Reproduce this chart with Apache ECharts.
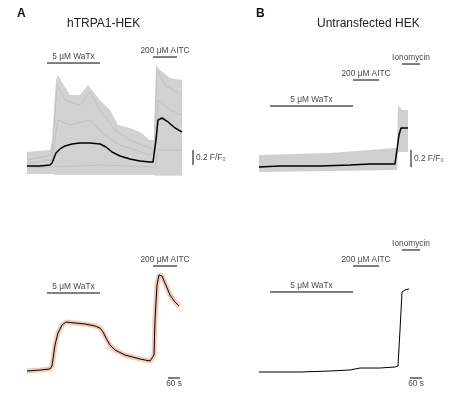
<!DOCTYPE html>
<html><head><meta charset="utf-8">
<script src="https://cdn.jsdelivr.net/npm/echarts@6/dist/echarts.min.js"></script>
<style>html,body{margin:0;padding:0;background:#fff}#c{width:450px;height:407px}</style>
</head><body><div id="c"></div>
<script>
// ---- Data (time in s, values in F/F0) ----
const aTopT = [0,65,115,125,145,165,190,225,265,315,365,395,425,465,515,565,615,630,645,655,675,705,740,775];
const aTopV = [1,1,1.013,1.04,1.173,1.227,1.267,1.293,1.307,1.307,1.293,1.253,1.187,1.133,1.093,1.067,1.053,1.053,1.347,1.613,1.64,1.587,1.507,1.453];
const aEnvT = [0,115,125,145,155,175,215,265,305,325,365,415,455,515,565,615,635,645,665,715,775];
const aEnvHi = [1.187,1.213,1.347,2.147,2.213,2.12,1.947,1.947,2.08,2.013,1.88,1.747,1.547,1.507,1.453,1.347,1.347,2.347,2.28,2.173,2.147];
const aEnvLo = [0.893,0.893,0.893,0.88,0.88,0.88,0.88,0.88,0.88,0.88,0.88,0.88,0.88,0.88,0.88,0.88,0.88,0.87,0.87,0.87,0.87];
const aCell1T = [0,125,150,190,265,315,365,440,515,615,635,650,690,775];
const aCell1V = [1.08,1.147,2.08,1.88,1.813,1.987,1.747,1.48,1.347,1.24,1.213,2.28,2.08,1.947];
const aCell2T = [0,125,155,215,315,390,465,615,640,655,715,775];
const aCell2V = [1.04,1.08,1.613,1.547,1.613,1.413,1.28,1.147,1.213,1.88,1.747,1.68];
const aCell3T = [0,365,640,655,775];
const aCell3V = [0.973,1.013,0.987,1.213,1.213];
const bTopT = [0,105,305,455,555,680,690,700,710,745];
const bTopV = [1,1.013,1.013,1.027,1.04,1.04,1.053,1.427,1.52,1.52];
const bEnvT = [0,355,680,690,695,715,745];
const bEnvHi = [1.16,1.187,1.253,1.253,1.827,1.76,1.76];
const bEnvLo = [0.933,0.947,0.96,0.96,1.2,1.2,1.2];
const aBotT = [0,65,115,125,140,155,175,195,240,290,340,365,380,395,415,440,490,565,615,625,635,640,650,660,675,690,715,740,760];
const aBotV = [1,1.013,1.027,1.067,1.347,1.507,1.613,1.653,1.64,1.627,1.6,1.573,1.52,1.44,1.347,1.28,1.213,1.16,1.133,1.12,1.213,1.68,2.147,2.28,2.267,2.173,2.013,1.92,1.867];
const bBotT = [0,205,355,455,505,605,680,695,705,715,730,750];
const bBotV = [1,1,1.013,1.027,1.053,1.053,1.067,1.08,1.56,2.067,2.093,2.107];
const aTopStim = [["5 μM WaTx",100,365,2.373],["200 μM AITC",630,750,2.453]];
const bTopStim = [["5 μM WaTx",55,470,1.813],["200 μM AITC",470,600,2.16],["Ionomycin",715,805,2.373]];
const aBotStim = [["5 μM WaTx",100,365,2.04],["200 μM AITC",630,750,2.4]];
const bBotStim = [["5 μM WaTx",55,470,2.067],["200 μM AITC",470,600,2.413],["Ionomycin",715,805,2.627]];
const aTopScale = [830,1.013,1.213,"0.2 F/F₀"];
const bTopScale = [760,1.0,1.227,"0.2 F/F₀"];
const aBotTime = [705,765,0.907,"60 s"];
const bBotTime = [755,815,0.92,"60 s"];

const FONT = 'Liberation Sans, Arial, sans-serif';
const FS = 8.3;
const zip = (t,v)=>t.map((x,i)=>[x,v[i]]);
const u = 1/75;
const grids = [
  [27,200,30,190,166,1000],
  [259,190,30,190,167,950],
  [27,200,235,395,371,1000],
  [259,190,235,395,372,950]
];
const series = [];
function add(s, gi){ s.xAxisIndex=gi; s.yAxisIndex=gi; s.silent=true; s.animation=false; series.push(s); }
function line(gi,data,color,width,z){ add({type:'line',data,symbol:'none',lineStyle:{color,width},z:z||2},gi); }
function band(gi,t,lo,hi,color){
  add({type:'custom',data:[0],z:1,clip:true,renderItem:(params,api)=>{
    const pts = t.map((x,i)=>api.coord([x,hi[i]]));
    for(let i=t.length-1;i>=0;i--) pts.push(api.coord([t[i],lo[i]]));
    return {type:'polygon',shape:{points:pts},style:{fill:color}};
  }},gi);
}
function stim(gi,list){
  list.forEach(([lab,s,e,y])=>{
    line(gi,[[s,y],[e,y]],'#000',1,5);
    add({type:'scatter',data:[[(s+e)/2,y]],symbolSize:0,label:{show:true,position:'top',distance:2,formatter:lab,fontSize:FS,fontFamily:FONT,color:'#111'},z:6},gi);
  });
}
band(0,aEnvT,aEnvLo,aEnvHi,'#d2d2d2');
line(0,zip(aCell1T,aCell1V),'#bdbdbd',0.8);
line(0,zip(aCell2T,aCell2V),'#bdbdbd',0.8);
line(0,zip(aCell3T,aCell3V),'#bdbdbd',0.8);
line(0,zip(aTopT,aTopV),'#000',1.5,4);
stim(0,aTopStim);
band(1,bEnvT,bEnvLo,bEnvHi,'#cfcfcf');
line(1,zip(bTopT,bTopV),'#000',1.5,4);
stim(1,bTopStim);
line(2,zip(aBotT,aBotV),'rgba(236,150,115,0.5)',5,2);
line(2,zip(aBotT,aBotV),'#000',1,4);
stim(2,aBotStim);
line(3,zip(bBotT,bBotV),'#000',1,4);
stim(3,bBotStim);
[[0,aTopScale],[1,bTopScale]].forEach(([gi,[x,y0,y1,lab]])=>{
  line(gi,[[x,y0],[x,y1]],'#000',1,5);
  add({type:'scatter',data:[[x,(y0+y1)/2]],symbolSize:0,label:{show:true,position:'right',distance:3,formatter:lab,fontSize:FS,fontFamily:FONT,color:'#111'},z:6},gi);
});
[[2,aBotTime],[3,bBotTime]].forEach(([gi,[x0,x1,y,lab]])=>{
  line(gi,[[x0,y],[x1,y]],'#000',1,5);
  add({type:'scatter',data:[[(x0+x1)/2,y]],symbolSize:0,label:{show:true,position:'bottom',distance:2,formatter:lab,fontSize:FS,fontFamily:FONT,color:'#111'},z:6},gi);
});

const option = {
  backgroundColor:'#fff',
  animation:false,
  grid: grids.map(([l,w,t,b])=>({left:l,width:w,top:t,height:b-t})),
  xAxis: grids.map((g,i)=>({type:'value',gridIndex:i,min:0,max:g[5],show:false})),
  yAxis: grids.map(([l,w,t,b,base],i)=>({type:'value',gridIndex:i,min:1-(b-base)*u,max:1+(base-t)*u,show:false})),
  graphic:[
    {type:'text',left:17,top:8,style:{text:'A',font:'bold 12px '+FONT,fill:'#111'}},
    {type:'text',left:256,top:8,style:{text:'B',font:'bold 12px '+FONT,fill:'#111'}},
    {type:'text',left:67,top:18,style:{text:'hTRPA1-HEK',font:'12px '+FONT,fill:'#222'}},
    {type:'text',left:317,top:18,style:{text:'Untransfected HEK',font:'12px '+FONT,fill:'#222'}}
  ],
  series
};
echarts.init(document.getElementById('c'),null,{renderer:'canvas'}).setOption(option);
</script></body></html>
